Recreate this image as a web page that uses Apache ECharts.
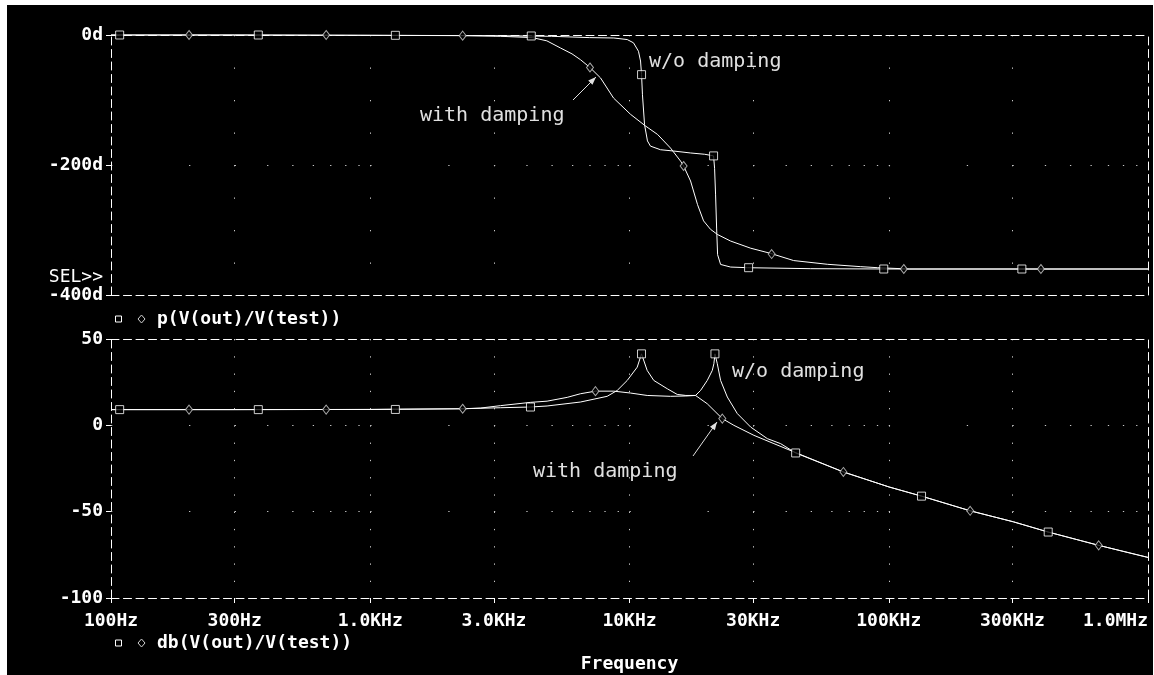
<!DOCTYPE html>
<html>
<head>
<meta charset="utf-8">
<script src="https://cdn.jsdelivr.net/npm/echarts@6/dist/echarts.min.js"></script>
<style>
html,body{margin:0;padding:0;background:#fff;}
#main{position:absolute;left:7px;top:5px;width:1146px;height:670px;background:#000;}
</style>
</head>
<body>
<div id="main"></div>
<script>
// ---------------- data ----------------
const xTickValues = [100, 300, 1000, 3000, 10000, 30000, 100000, 300000, 1000000];
const xTickLabels = ['100Hz', '300Hz', '1.0KHz', '3.0KHz', '10KHz', '30KHz', '100KHz', '300KHz', '1.0MHz'];

// Phase, w/o damping (Hz, degrees)
const phaseWoFreq = [100, 300, 1000, 3000, 5000, 7000, 8700, 9800, 10360, 10830, 11030, 11130, 11220, 11430, 11730, 12050, 13170, 14790, 17200, 19500, 21100, 21290, 21480, 21680, 21870, 22460, 24550, 28550, 50000, 100000, 1000000];
const phaseWoDeg  = [0, 0, -0.5, -1, -2, -4, -4.6, -7, -12, -25, -40, -61, -92, -138, -163, -171, -176.5, -178.5, -181.5, -183.5, -186, -205, -246, -297, -338, -353, -357, -358, -359.5, -360, -360];

// Phase, with damping
const phaseDampFreq = [100, 300, 1000, 2270, 3180, 4220, 4800, 5420, 6000, 6470, 7040, 7730, 8680, 10090, 11530, 12830, 14400, 15740, 16170, 17200, 18300, 19310, 20540, 21870, 24550, 29330, 35030, 42960, 58150, 77970, 90680, 120000, 1000000];
const phaseDampDeg  = [0, 0, -0.5, -1, -2, -4, -9, -20, -29, -38, -50, -66, -97, -122, -140, -153, -174, -194, -201.5, -224.6, -261, -286, -299, -307, -317, -328, -336, -347, -352.8, -356.4, -358, -360, -360];

// Gain, w/o damping (Hz, dB)
const gainWoFreq = [100, 300, 1000, 2270, 3180, 4150, 4810, 6470, 8200, 8965, 9800, 10710, 11125, 11700, 12410, 13980, 15280, 16500, 17980, 18800, 19950, 20860, 21160, 21360, 21810, 22460, 23840, 26050, 29330, 34010, 38280, 43740, 66830, 100300, 133800, 206100, 302900, 412200, 645300, 1000000];
const gainWoDb   = [9.1, 9.1, 9.2, 9.6, 10.2, 10.6, 11.2, 13.5, 16.8, 20.2, 26, 33.7, 41.4, 31.8, 26, 21.2, 17.9, 17.3, 17.3, 20.2, 26, 31.8, 35.7, 41.4, 35.7, 26, 16.4, 6.8, -1, -7.7, -10.6, -16, -27, -35.7, -41, -49.5, -55.9, -61.8, -69.5, -76.5];

// Gain, with damping
const gainDampFreq = [100, 300, 1000, 2270, 2660, 3180, 4150, 4810, 5750, 6470, 7390, 8700, 10090, 11700, 14400, 16500, 17980, 19950, 22800, 25270, 30200, 36060, 43090, 66830, 100300, 133800, 206100, 302900, 412200, 645300, 1000000];
const gainDampDb   = [9.1, 9.1, 9.2, 9.6, 10.0, 11.4, 13.3, 14.0, 16.2, 18.3, 19.8, 19.8, 18.7, 17.3, 16.8, 17.0, 17.3, 12.5, 3.9, 0, -5.8, -10.6, -15.4, -27, -35.7, -41, -49.5, -55.9, -61.8, -69.5, -76.5];

// Marker points (square = w/o damping, diamond = with damping)
const phaseWoMarkFreq   = [108, 370, 1250, 4180, 11130, 21100, 28800, 95650, 326200];
const phaseWoMarkDeg    = [0, 0, -0.5, -1.5, -61, -186, -358, -360, -360];
const phaseDampMarkFreq = [200, 676, 2272, 7040, 16170, 35340, 114300, 386300];
const phaseDampMarkDeg  = [0, 0, -1, -50, -201.5, -337, -360, -360];
const gainWoMarkFreq    = [108, 370, 1250, 4150, 11125, 21360, 43740, 133800, 412200];
const gainWoMarkDb      = [9.1, 9.1, 9.2, 10.6, 41.4, 41.4, -16, -41, -61.8];
const gainDampMarkFreq  = [200, 676, 2272, 7390, 22800, 66830, 206100, 645300];
const gainDampMarkDb    = [9.1, 9.1, 9.6, 19.8, 3.9, -27, -49.5, -69.5];

// ---------------- layout / style ----------------
const GX = 104, GW = 1037;
const G1 = {top: 30, height: 260};
const G2 = {top: 334, height: 259};
const FONT = 'DejaVu Sans Mono';
const LINE = '#ffffff';
const GRIDDOT = '#c8c8c8';
const BORDER_DASH = [8, 4.5];

function zip(a, b) { return a.map((v, i) => [v, b[i]]); }

// dotted horizontal gridline with dots at log minor positions (2..9 per decade)
function logDash(width, decades) {
  const d = width / decades, arr = [];
  for (let k = 1; k <= 9; k++) {
    const seg = d * (Math.log10(k + 1) - Math.log10(k));
    arr.push(1.3, seg - 1.3);
  }
  return arr;
}
function linDash(height, parts) { return [1.3, height / parts - 1.3]; }

const labelStyle = {color: '#fff', fontFamily: FONT, fontWeight: 'bold', fontSize: 18};

function xLabel(v) {
  const i = xTickValues.findIndex(t => Math.abs(t - v) / t < 1e-6);
  return i >= 0 ? xTickLabels[i] : '';
}

function xBottom(gi, h, parts, showLabels) {
  return {
    gridIndex: gi, type: 'log', logBase: 10, min: 100, max: 1000000, position: 'bottom',
    axisLine: {show: true, onZero: false, lineStyle: {color: LINE, width: 1, type: BORDER_DASH}},
    axisTick: {show: showLabels, length: 5, inside: false, customValues: xTickValues, lineStyle: {color: LINE}},
    axisLabel: {show: showLabels, customValues: xTickValues, formatter: xLabel, margin: 14,
                alignMaxLabel: 'right', ...labelStyle},
    splitLine: {show: true, showMinLine: false, showMaxLine: false,
                lineStyle: {color: GRIDDOT, width: 1, type: linDash(h, parts)}},
    minorTick: {show: false}, minorSplitLine: {show: false}
  };
}
function xTop(gi) {
  return {
    gridIndex: gi, type: 'log', logBase: 10, min: 100, max: 1000000, position: 'top',
    axisLine: {show: true, onZero: false, lineStyle: {color: LINE, width: 1, type: BORDER_DASH}},
    axisTick: {show: false}, axisLabel: {show: false}, splitLine: {show: false}
  };
}
function yLeft(gi, min, max, interval, fmt) {
  return {
    gridIndex: gi, type: 'value', min: min, max: max, interval: interval, position: 'left',
    axisLine: {show: true, onZero: false, lineStyle: {color: LINE, width: 1, type: BORDER_DASH}},
    axisTick: {show: true, length: 5, lineStyle: {color: LINE}},
    axisLabel: {show: true, formatter: fmt, margin: 8, ...labelStyle},
    splitLine: {show: true, showMinLine: false, showMaxLine: false,
                lineStyle: {color: GRIDDOT, width: 1, type: logDash(GW, 4)}}
  };
}
function yRight(gi, min, max) {
  return {
    gridIndex: gi, type: 'value', min: min, max: max, position: 'right',
    axisLine: {show: true, onZero: false, lineStyle: {color: LINE, width: 1, type: BORDER_DASH}},
    axisTick: {show: false}, axisLabel: {show: false}, splitLine: {show: false}
  };
}

function lineSeries(xi, yi, data) {
  return {type: 'line', xAxisIndex: xi, yAxisIndex: yi, data: data, showSymbol: false,
          symbol: 'none', clip: false, lineStyle: {color: LINE, width: 1}, z: 3};
}
function markSeries(xi, yi, data, square) {
  return {type: 'scatter', xAxisIndex: xi, yAxisIndex: yi, data: data, clip: false,
          symbol: square ? 'rect' : 'diamond', symbolSize: square ? 8 : [7, 9],
          itemStyle: {color: '#000', borderColor: square ? '#fff' : '#d0d0d0', borderWidth: 1}, z: 4};
}

// annotations (pixel layout)
function arrow(tail, tip) {
  const dx = tip[0] - tail[0], dy = tip[1] - tail[1], L = Math.hypot(dx, dy);
  const ux = -dx / L, uy = -dy / L, px = -uy, py = ux;
  const a = [tip[0] + 8 * ux + 3 * px, tip[1] + 8 * uy + 3 * py];
  const b = [tip[0] + 8 * ux - 3 * px, tip[1] + 8 * uy - 3 * py];
  return [
    {type: 'line', shape: {x1: tail[0], y1: tail[1], x2: tip[0], y2: tip[1]},
     style: {stroke: '#e0e0e0', lineWidth: 1}, z: 10},
    {type: 'polygon', shape: {points: [tip, a, b]}, style: {fill: '#e0e0e0'}, z: 10}
  ];
}
function txt(x, y, s, font, align, color) {
  return {type: 'text', x: x, y: y, z: 10,
          style: {text: s, font: font, fill: color || '#fff', align: align || 'left', verticalAlign: 'middle',
                  textAlign: align || 'left', textVerticalAlign: 'middle'}};
}
function legendIcons(y) {
  return [
    {type: 'rect', shape: {x: 108.5, y: y - 3, width: 6, height: 6}, style: {fill: '#000', stroke: '#fff', lineWidth: 1}, z: 10},
    {type: 'polygon', shape: {points: [[134.5, y - 4], [138, y], [134.5, y + 4], [131, y]]},
     style: {fill: '#000', stroke: '#d0d0d0', lineWidth: 1}, z: 10}
  ];
}

const annFont = '20px ' + FONT;
const boldFont = 'bold 18px ' + FONT;

const graphics = [].concat(
  [txt(96, 272, 'SEL>>', '18px ' + FONT, 'right')],
  legendIcons(314), [txt(150, 314, 'p(V(out)/V(test))', boldFont)],
  legendIcons(638), [txt(150, 638, 'db(V(out)/V(test))', boldFont)],
  [txt(642, 57, 'w/o damping', annFont, 'left', '#e0e0e0')],
  [txt(413, 111, 'with damping', annFont, 'left', '#e0e0e0')],
  arrow([566, 95], [589, 72]),
  [txt(725, 367, 'w/o damping', annFont, 'left', '#e0e0e0')],
  [txt(526, 467, 'with damping', annFont, 'left', '#e0e0e0')],
  arrow([686, 451], [710, 417])
);

const option = {
  backgroundColor: '#000',
  animation: false,
  grid: [
    {left: GX, top: G1.top, width: GW, height: G1.height, containLabel: false},
    {left: GX, top: G2.top, width: GW, height: G2.height, containLabel: false}
  ],
  xAxis: [
    xBottom(0, G1.height, 8, false),
    xTop(0),
    Object.assign(xBottom(1, G2.height, 15, true), {
      name: 'Frequency', nameLocation: 'middle', nameGap: 57,
      nameTextStyle: {color: '#fff', fontFamily: FONT, fontWeight: 'bold', fontSize: 18}
    }),
    xTop(1)
  ],
  yAxis: [
    yLeft(0, -400, 0, 200, v => v + 'd'),
    yRight(0, -400, 0),
    yLeft(1, -100, 50, 50, v => String(v)),
    yRight(1, -100, 50)
  ],
  series: [
    lineSeries(0, 0, zip(phaseWoFreq, phaseWoDeg)),
    lineSeries(0, 0, zip(phaseDampFreq, phaseDampDeg)),
    markSeries(0, 0, zip(phaseWoMarkFreq, phaseWoMarkDeg), true),
    markSeries(0, 0, zip(phaseDampMarkFreq, phaseDampMarkDeg), false),
    lineSeries(2, 2, zip(gainWoFreq, gainWoDb)),
    lineSeries(2, 2, zip(gainDampFreq, gainDampDb)),
    markSeries(2, 2, zip(gainWoMarkFreq, gainWoMarkDb), true),
    markSeries(2, 2, zip(gainDampMarkFreq, gainDampMarkDb), false)
  ],
  graphic: graphics
};

const chart = echarts.init(document.getElementById('main'), null, {renderer: 'canvas'});
chart.setOption(option);
</script>
</body>
</html>
